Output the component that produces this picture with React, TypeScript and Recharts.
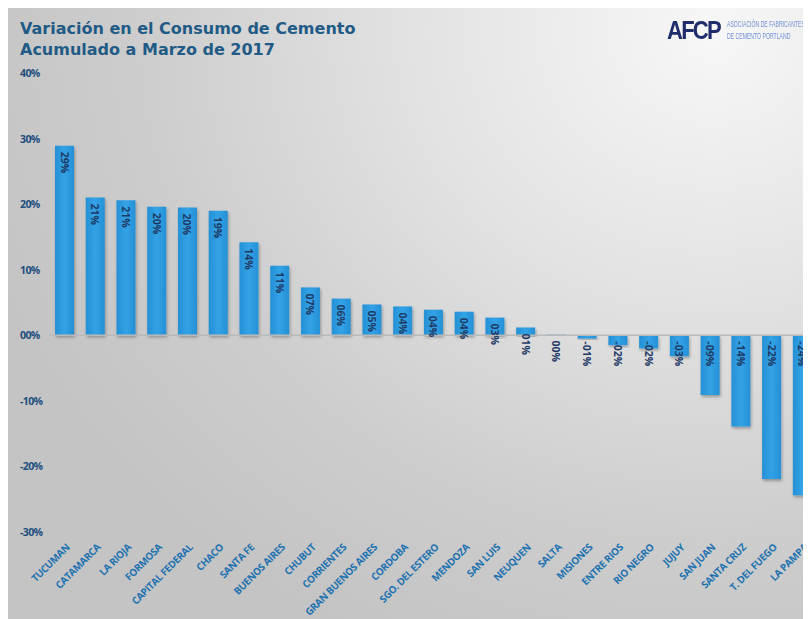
import { BarChart, Bar, XAxis, YAxis, CartesianGrid, ReferenceLine, LabelList } from 'recharts';

// provincias en el orden del grafico
const provincias = [
  'TUCUMAN', 'CATAMARCA', 'LA RIOJA', 'FORMOSA', 'CAPITAL FEDERAL', 'CHACO', 'SANTA FE',
  'BUENOS AIRES', 'CHUBUT', 'CORRIENTES', 'GRAN BUENOS AIRES', 'CORDOBA', 'SGO. DEL ESTERO',
  'MENDOZA', 'SAN LUIS', 'NEUQUEN', 'SALTA', 'MISIONES', 'ENTRE RIOS', 'RIO NEGRO', 'JUJUY',
  'SAN JUAN', 'SANTA CRUZ', 'T. DEL FUEGO', 'LA PAMPA',
];

// variacion % acumulada a marzo 2017
const variacion = [
  28.9, 21.0, 20.6, 19.6, 19.5, 19.0, 14.2, 10.6, 7.3, 5.6, 4.7, 4.4, 3.9,
  3.6, 2.7, 1.2, 0.1, -0.5, -1.5, -2.0, -3.2, -9.1, -13.9, -21.9, -24.4,
];

const yTicks = [-30, -20, -10, 0, 10, 20, 30, 40];

const data = provincias.map((p, i) => ({ provincia: p, valor: variacion[i] }));

const pct = (v: number) => {
  const n = String(Math.round(Math.abs(v))).padStart(2, '0');
  return (v < 0 && Math.round(Math.abs(v)) > 0 ? '-' : '') + n + '%';
};

const YTick = ({ y, payload }: any) => (
  <text x={12} y={y} dy={4} textAnchor="start" fill="#1d4e7e"
    style={{ fontFamily: 'Open Sans', fontWeight: 700, fontSize: 10.5, letterSpacing: -0.6 }}>
    {payload.value === 0 ? '00%' : `${payload.value}%`}
  </text>
);

const XTick = ({ x, y, payload }: any) => (
  <g transform={`translate(${x + 6},${y + 16})`}>
    <text x={0} y={0} textAnchor="end" transform="rotate(-45)" fill="#1e72b0"
      style={{ fontFamily: 'Open Sans', fontWeight: 700, fontSize: 10, letterSpacing: -0.4 }}>
      {payload.value}
    </text>
  </g>
);

const BarLabel = ({ x, y, width, height, value }: any) => {
  const cx = x + width / 2;
  const top = Math.min(y, y + height) + 6;
  return (
    <text x={cx} y={top} transform={`rotate(90 ${cx} ${top})`} dy={4} textAnchor="start" fill="#1d3a66"
      style={{ fontFamily: 'Open Sans', fontWeight: 700, fontSize: 10.5 }}>
      {pct(value)}
    </text>
  );
};

const gridX = ({ xAxis }: any) => {
  const s = xAxis && xAxis.scale;
  if (typeof s !== 'function') return [];
  return provincias.map((p) => s(p)).filter((v: any) => typeof v === 'number');
};

export default function App() {
  return (
    <div style={{
      position: 'relative', width: 803, height: 611, overflow: 'hidden',
      background: 'radial-gradient(ellipse 95% 110% at 88% 4%, #f7f7f7 0%, #e2e2e2 40%, #cdcdcd 75%, #c4c4c4 100%)',
    }}>
      <div style={{
        position: 'absolute', left: 12, top: 10, color: '#1f5b86',
        fontFamily: 'DejaVu Sans', fontWeight: 700, fontSize: 16, lineHeight: '21px',
      }}>
        <div>Variación en el Consumo de Cemento</div>
        <div>Acumulado a Marzo de 2017</div>
      </div>
      <div style={{
        position: 'absolute', left: 659, top: 10, fontFamily: 'Liberation Sans', fontWeight: 700,
        fontSize: 25, lineHeight: '25px', color: '#1f2d6b', letterSpacing: -2,
        transform: 'scaleX(0.88)', transformOrigin: 'left top',
      }}>AFCP</div>
      <div style={{
        position: 'absolute', left: 719, top: 10, fontFamily: 'Liberation Sans', fontSize: 9,
        lineHeight: '12px', color: '#6f8fd6', whiteSpace: 'nowrap',
        transform: 'scaleX(0.57)', transformOrigin: 'left top',
      }}>
        <div>ASOCIACIÓN DE FABRICANTES</div>
        <div>DE CEMENTO PORTLAND</div>
      </div>
      <BarChart width={830} height={611} data={data}
        margin={{ top: 65, right: 20.4, bottom: 57, left: 0 }}>
        <defs>
          <linearGradient id="barFill" x1="0" y1="0" x2="1" y2="0">
            <stop offset="0%" stopColor="#2590d6" />
            <stop offset="50%" stopColor="#33a2e6" />
            <stop offset="100%" stopColor="#2590d6" />
          </linearGradient>
          <filter id="sombra" x="-30%" y="-10%" width="160%" height="130%">
            <feDropShadow dx={1} dy={2} stdDeviation={1.5} floodColor="#000" floodOpacity={0.3} />
          </filter>
        </defs>
        <CartesianGrid horizontal={false} stroke="#eeeeee" strokeOpacity={0.5}
          verticalCoordinatesGenerator={gridX} />
        <XAxis dataKey="provincia" interval={0} height={30} axisLine={false} tickLine={false}
          tickSize={0} tickMargin={0} tick={<XTick />} />
        <YAxis domain={[-30, 40]} ticks={yTicks} width={41} axisLine={false} tickLine={false}
          tick={<YTick />} />
        <ReferenceLine y={0} stroke="#b9b9b9" strokeWidth={1.5} />
        <Bar dataKey="valor" barSize={19} fill="url(#barFill)" filter="url(#sombra)"
          isAnimationActive={false}>
          <LabelList dataKey="valor" content={<BarLabel />} />
        </Bar>
      </BarChart>
    </div>
  );
}
